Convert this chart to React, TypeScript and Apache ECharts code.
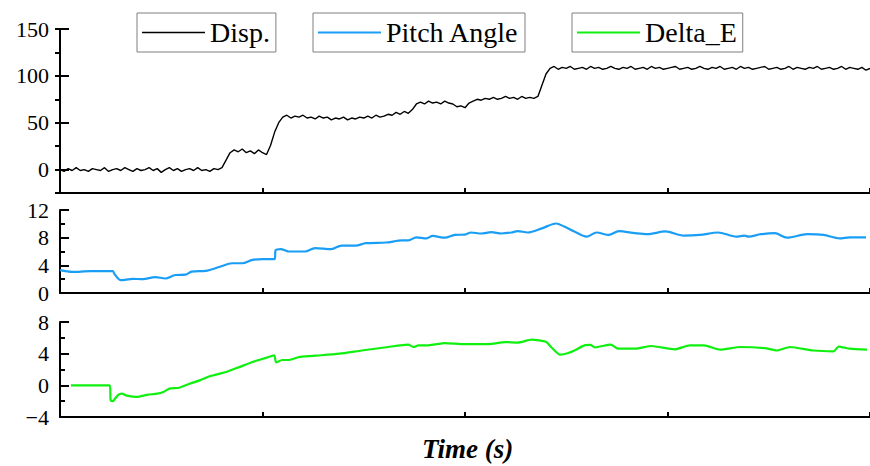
import React, { useEffect, useRef } from "react";
import * as echarts from "echarts";

// Displacement (panel 1), sampled every 0.02 time units from 0 to 4
const dispStep = 0.02;
const dispValues = [
  0, -2, 1, -1, 2, -1, 0, -2, 1, 0,
  -1, 2, -2, 0, 1, -1, 2, 0, -2, 1,
  -1, 0, 2, -1, 1, -3, 0, 2, -1, 1,
  -2, 0, 1, -1, 2, -1, 0, -2, 1, 0,
  2, 10, 18, 21, 19, 22, 18, 20, 17, 21, 18, 16, 26, 40, 50, 56,
  58, 55, 57, 56, 58, 55, 56, 54, 57, 55, 56, 53, 55, 54, 56, 53, 55, 54, 56, 55, 57, 55, 58, 56, 57,
  59, 58, 61, 59, 62, 60, 64,
  70, 72, 70, 73, 71, 72, 70, 73, 71, 70, 67, 68, 66,
  71, 73, 75, 74, 76, 75, 77, 75, 76, 78, 76, 77, 75, 78, 76, 77, 76,
  78, 90, 102, 108,
  110, 107, 109, 108, 110, 107, 108, 109, 107, 110,
  108, 109, 107, 108, 110, 108, 107, 109, 108, 110,
  107, 108, 109, 107, 110, 108, 109, 107, 108, 109,
  110, 107, 108, 109, 107, 108, 110, 108, 107, 109,
  108, 110, 107, 108, 109, 107, 110, 108, 109, 107,
  108, 109, 110, 107, 108, 109, 107, 108, 110, 107,
  109, 108, 107, 109, 108, 110, 107, 108, 109, 107,
  108, 110, 107, 109, 108, 107, 109, 106, 108,
];

// Pitch angle (panel 2)
const pitchTime = [
  0.0, 0.06, 0.15, 0.26, 0.27, 0.3, 0.36, 0.41, 0.47, 0.52, 0.57, 0.62, 0.65, 0.72, 0.79, 0.85, 0.9, 0.95, 1.0, 1.06,
  1.065, 1.09, 1.13, 1.21, 1.26, 1.34, 1.39, 1.46, 1.51, 1.61, 1.69, 1.72, 1.76, 1.81, 1.84, 1.9, 1.95, 2.0, 2.03, 2.08,
  2.13, 2.18, 2.23, 2.26, 2.31, 2.38, 2.45, 2.49, 2.54, 2.6, 2.65, 2.71, 2.76, 2.84, 2.9, 2.99, 3.08, 3.16, 3.25, 3.34,
  3.38, 3.4, 3.46, 3.53, 3.59, 3.69, 3.77, 3.85, 3.9, 3.98,
];
const pitchValues = [
  3.3, 3.05, 3.15, 3.15, 2.7, 1.85, 2.05, 2.0, 2.3, 2.1, 2.6, 2.65, 3.1, 3.2, 3.8, 4.3, 4.3, 4.8, 4.9, 4.9,
  6.2, 6.35, 6.0, 6.0, 6.5, 6.35, 6.85, 6.85, 7.2, 7.3, 7.6, 7.6, 8.05, 7.9, 8.25, 8.0, 8.4, 8.45, 8.75, 8.6,
  8.8, 8.6, 8.75, 8.95, 8.75, 9.35, 10.05, 9.6, 8.9, 8.15, 8.75, 8.4, 8.95, 8.65, 8.5, 8.9, 8.3, 8.4, 8.75, 8.15,
  8.3, 8.15, 8.5, 8.65, 8.0, 8.5, 8.4, 7.9, 8.05, 8.05,
];

// Delta_E (panel 3)
const deltaTime = [
  0.054, 0.246, 0.25, 0.26, 0.285, 0.305, 0.33, 0.38, 0.43, 0.48, 0.51, 0.54, 0.59, 0.64, 0.69, 0.74, 0.82, 0.885, 0.95, 1.02,
  1.058, 1.067, 1.097, 1.13, 1.18, 1.23, 1.29, 1.38, 1.49, 1.62, 1.72, 1.746, 1.77, 1.82, 1.9, 2.0, 2.115, 2.2, 2.26, 2.33,
  2.4, 2.425, 2.47, 2.51, 2.54, 2.59, 2.62, 2.64, 2.72, 2.755, 2.84, 2.92, 3.035, 3.11, 3.18, 3.26, 3.36, 3.48, 3.54, 3.605,
  3.72, 3.82, 3.845, 3.9, 3.985,
];
const deltaValues = [
  0, 0, -1.9, -2.0, -1.26, -1.05, -1.3, -1.47, -1.2, -1.05, -0.84, -0.42, -0.3, 0.2, 0.63, 1.14, 1.68, 2.3, 2.95, 3.5,
  3.8, 2.9, 3.2, 3.2, 3.57, 3.7, 3.8, 4.0, 4.4, 4.84, 5.13, 4.85, 5.05, 5.05, 5.34, 5.2, 5.2, 5.47, 5.4, 5.77,
  5.5, 4.84, 3.87, 4.08, 4.4, 5.05, 5.1, 4.8, 5.13, 4.63, 4.63, 4.97, 4.55, 5.05, 5.05, 4.5, 4.84, 4.7, 4.4, 4.84,
  4.4, 4.3, 4.9, 4.63, 4.5,
];

const dispLabels = [0, 50, 100, 150];
const seriesNames = ["Disp.", "Pitch Angle", "Delta_E"];
const xTitle = "Time (s)";

const FONT = "Liberation Serif";

export default function App() {
  const ref = useRef<HTMLDivElement>(null);

  useEffect(() => {
    if (!ref.current) return;
    const chart = echarts.init(ref.current, null, { renderer: "svg" });

    const dispData = dispValues.map((v, i) => [+(i * dispStep).toFixed(3), v]);
    const pitchData = pitchTime.map((t, i) => [t, pitchValues[i]]);
    const deltaData = deltaTime.map((t, i) => [t, deltaValues[i]]);

    const axisLine = { show: true, onZero: false, lineStyle: { color: "#000", width: 2 } };
    const labelStyle = { color: "#000", fontSize: 22, fontFamily: FONT, margin: 11 };

    const xAxisCommon = (gridIndex: number) => ({
      type: "value" as const,
      gridIndex,
      min: 0,
      max: 4,
      interval: 1,
      axisLine,
      axisTick: { show: true, inside: true, length: 5, lineStyle: { color: "#000", width: 2 } },
      axisLabel: { show: false },
      splitLine: { show: false },
    });

    const legendCommon = {
      orient: "horizontal" as const,
      top: 13,
      padding: [5, 6, 5, 5],
      borderColor: "#7f7f7f",
      borderWidth: 1,
      itemWidth: 63,
      icon: "rect",
      textStyle: { color: "#000", fontSize: 28, fontFamily: FONT, lineHeight: 29 },
    };

    chart.setOption({
      animation: false,
      backgroundColor: "#fff",
      grid: [
        { left: 60, top: 29, width: 813, height: 164 },
        { left: 60, top: 210, width: 813, height: 83 },
        { left: 60, top: 322, width: 813, height: 95 },
      ],
      legend: [
        { ...legendCommon, itemHeight: 1.5, left: 137, data: [seriesNames[0]] },
        { ...legendCommon, itemHeight: 2.2, left: 313, data: [seriesNames[1]] },
        { ...legendCommon, itemHeight: 2.2, left: 572, data: [seriesNames[2]] },
      ],
      xAxis: [xAxisCommon(0), xAxisCommon(1), xAxisCommon(2)],
      yAxis: [
        {
          type: "value",
          gridIndex: 0,
          min: -25,
          max: 150,
          axisLine,
          axisTick: {
            show: true,
            inside: true,
            length: 9,
            customValues: dispLabels,
            lineStyle: { color: "#000", width: 2 },
          },
          axisLabel: { ...labelStyle, customValues: dispLabels },
          splitLine: { show: false },
        },
        {
          type: "value",
          gridIndex: 0,
          min: -25,
          max: 150,
          interval: 25,
          axisLine: { show: false },
          axisTick: { show: true, inside: true, length: 5, lineStyle: { color: "#000", width: 2 } },
          axisLabel: { show: false },
          splitLine: { show: false },
        },
        {
          type: "value",
          gridIndex: 1,
          min: 0,
          max: 12,
          interval: 4,
          axisLine,
          axisTick: { show: true, inside: true, length: 9, lineStyle: { color: "#000", width: 2 } },
          minorTick: { show: true, splitNumber: 2, length: 5, lineStyle: { color: "#000", width: 2 } },
          axisLabel: labelStyle,
          splitLine: { show: false },
        },
        {
          type: "value",
          gridIndex: 2,
          min: -4,
          max: 8,
          interval: 4,
          axisLine,
          axisTick: { show: true, inside: true, length: 9, lineStyle: { color: "#000", width: 2 } },
          minorTick: { show: true, splitNumber: 2, length: 5, lineStyle: { color: "#000", width: 2 } },
          axisLabel: {
            ...labelStyle,
            formatter: (v: number) => (v < 0 ? "\u2212" + Math.abs(v) : String(v)),
          },
          splitLine: { show: false },
        },
      ],
      series: [
        {
          name: seriesNames[0],
          type: "line",
          xAxisIndex: 0,
          yAxisIndex: 0,
          data: dispData,
          symbol: "none",
          showSymbol: false,
          lineStyle: { color: "#000", width: 1.4 },
          itemStyle: { color: "#000" },
        },
        {
          name: seriesNames[1],
          type: "line",
          xAxisIndex: 1,
          yAxisIndex: 2,
          data: pitchData,
          symbol: "none",
          showSymbol: false,
          smooth: 0.3,
          lineStyle: { color: "#1a9ef5", width: 2.2 },
          itemStyle: { color: "#1a9ef5" },
        },
        {
          name: seriesNames[2],
          type: "line",
          xAxisIndex: 2,
          yAxisIndex: 3,
          data: deltaData,
          symbol: "none",
          showSymbol: false,
          smooth: 0.2,
          lineStyle: { color: "#10f010", width: 2.2 },
          itemStyle: { color: "#10f010" },
        },
      ],
      graphic: [
        {
          type: "text",
          left: 422,
          top: 435,
          style: {
            text: xTitle,
            fill: "#000",
            font: `italic bold 27px ${FONT}`,
          },
        },
      ],
    });

    return () => chart.dispose();
  }, []);

  return (
    <div
      ref={ref}
      style={{ position: "absolute", left: 0, top: 0, width: 870, height: 466, background: "#fff" }}
    />
  );
}
